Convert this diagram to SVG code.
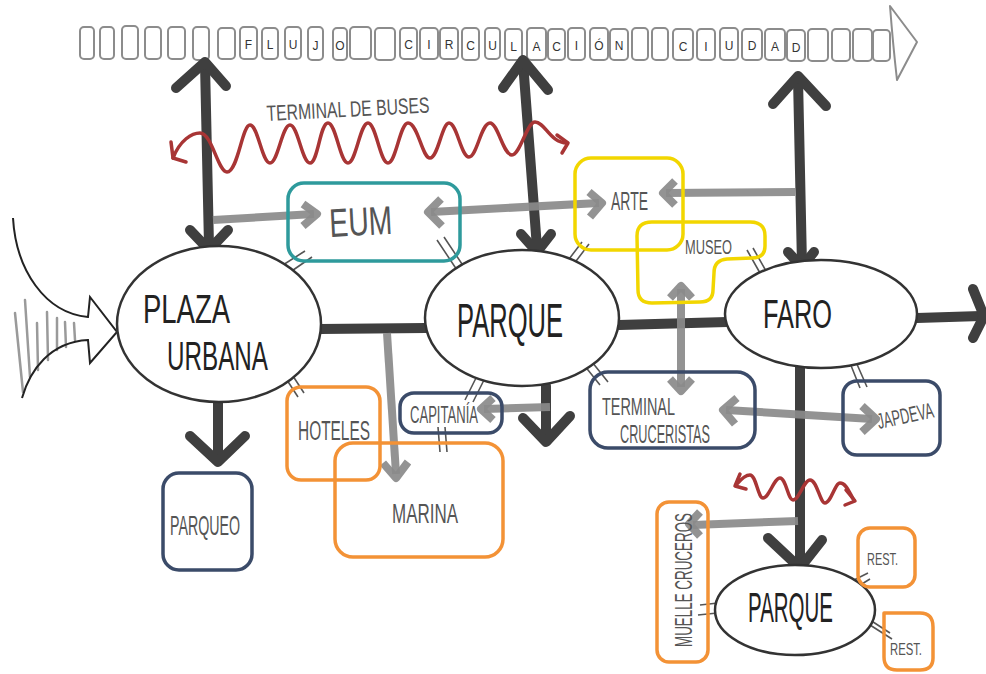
<svg xmlns="http://www.w3.org/2000/svg" width="986" height="674" viewBox="0 0 986 674">
  <style>
    .strip rect { fill: #fff; stroke: #8c8c8c; stroke-width: 2; }
    .strip text { font-family: "Liberation Sans", Arial, sans-serif; font-size: 12px; fill: #333; text-anchor: middle; }
    .main { fill: none; stroke: #3f3f3f; stroke-width: 10; stroke-linecap: round; stroke-linejoin: round; }
    .link { fill: none; stroke: #8a8a8a; stroke-width: 8; stroke-linecap: butt; stroke-linejoin: round; opacity: 0.92; }
    .wave { fill: none; stroke: #a83535; stroke-width: 3.5; stroke-linecap: round; stroke-linejoin: round; }
    .tick { fill: none; stroke: #555; stroke-width: 1.6; }
    .oval { fill: #fff; stroke: #333; stroke-width: 2.5; }
    .box { fill: none; stroke-width: 3.5; stroke-linejoin: round; }
    .teal { stroke: #2e9a9c; }
    .yellow { stroke: #f2d600; }
    .navy { stroke: #3b4b69; }
    .orange { stroke: #f39236; }
    .big { font-family: "Liberation Sans", Arial, sans-serif; fill: #222; }
    .lbl { font-family: "Liberation Sans", Arial, sans-serif; fill: #555; }
    .entry { fill: none; stroke: #222; stroke-width: 2; stroke-linejoin: miter; }
    .hatch { stroke: #9a9a9a; stroke-width: 2.5; stroke-linecap: round; }
  </style>

  <rect width="986" height="674" fill="#fff"/>

  <!-- city circulation strip -->
  <g id="flujo" class="strip">
    <rect x="80" y="27" width="14" height="32" rx="4"/>
    <rect x="100" y="27" width="14" height="32" rx="4"/>
    <rect x="122" y="26" width="16" height="33" rx="4"/>
    <rect x="145" y="27" width="16" height="32" rx="4"/>
    <rect x="168" y="27" width="17" height="32" rx="4"/>
    <rect x="193" y="27" width="16" height="33" rx="4"/>
    <rect x="218" y="28" width="17" height="31" rx="4"/>
    <rect x="240" y="27" width="17" height="32" rx="4"/><text x="248.5" y="49">F</text>
    <rect x="262" y="28" width="16" height="31" rx="4"/><text x="270" y="49">L</text>
    <rect x="285" y="27" width="16" height="32" rx="4"/><text x="293" y="49">U</text>
    <rect x="308" y="27" width="15" height="33" rx="4"/><text x="315.5" y="50">J</text>
    <rect x="333" y="28" width="14" height="32" rx="4"/><text x="340" y="50">O</text>
    <rect x="350" y="27" width="21" height="32" rx="4"/>
    <rect x="375" y="28" width="20" height="32" rx="4"/>
    <rect x="400" y="28" width="17" height="31" rx="4"/><text x="408.5" y="49">C</text>
    <rect x="420" y="28" width="18" height="31" rx="4"/><text x="429" y="49">I</text>
    <rect x="440" y="28" width="18" height="31" rx="4"/><text x="449" y="49">R</text>
    <rect x="462" y="28" width="17" height="32" rx="4"/><text x="470.5" y="50">C</text>
    <rect x="485" y="28" width="15" height="31" rx="4"/><text x="492.5" y="50">U</text>
    <rect x="505" y="29" width="17" height="31" rx="4"/><text x="513.5" y="51">L</text>
    <rect x="527" y="28" width="19" height="32" rx="4"/><text x="536.5" y="51">A</text>
    <rect x="548" y="29" width="17" height="31" rx="4"/><text x="556.5" y="51">C</text>
    <rect x="568" y="28" width="17" height="32" rx="4"/><text x="576.5" y="50">I</text>
    <rect x="590" y="28" width="18" height="32" rx="4"/><text x="599" y="50">Ó</text>
    <rect x="610" y="29" width="18" height="31" rx="4"/><text x="619" y="50">N</text>
    <rect x="632" y="28" width="16" height="32" rx="4"/>
    <rect x="652" y="28" width="16" height="32" rx="4"/>
    <rect x="673" y="29" width="20" height="31" rx="4"/><text x="683" y="51">C</text>
    <rect x="697" y="29" width="18" height="31" rx="4"/><text x="706" y="51">I</text>
    <rect x="720" y="28" width="18" height="32" rx="4"/><text x="729" y="50">U</text>
    <rect x="742" y="29" width="20" height="31" rx="4"/><text x="752" y="50">D</text>
    <rect x="765" y="29" width="20" height="31" rx="4"/><text x="775" y="51">A</text>
    <rect x="787" y="30" width="18" height="31" rx="4"/><text x="796" y="52">D</text>
    <rect x="808" y="29" width="20" height="32" rx="4"/>
    <rect x="832" y="29" width="18" height="32" rx="4"/>
    <rect x="853" y="29" width="19" height="32" rx="4"/>
    <rect x="873" y="30" width="17" height="31" rx="4"/>
    <path d="M890,6 L917,42 L897,80 Q893,45 890,6 Z" fill="#fff" stroke="#8c8c8c" stroke-width="2" stroke-linejoin="round"/>
  </g>

  <!-- incoming flow on the left -->
  <g id="entrada">
    <line class="hatch" x1="15" y1="313" x2="23" y2="392"/>
    <line class="hatch" x1="25" y1="300" x2="30" y2="377"/>
    <line class="hatch" x1="37" y1="323" x2="38" y2="370"/>
    <line class="hatch" x1="47" y1="312" x2="48" y2="360"/>
    <line class="hatch" x1="57" y1="318" x2="57" y2="350"/>
    <line class="hatch" x1="65" y1="322" x2="66" y2="347"/>
    <line class="hatch" x1="74" y1="323" x2="75" y2="340"/>
    <path class="entry" d="M13,218 C16,270 45,313 88,317 L90,297 L117,332 L90,363 L88,340 C50,342 30,370 22,398"/>
  </g>

  <!-- connectors -->
  <g id="connectors">
    <!-- main circulation axes -->
    <path class="main" d="M205,64 L209,246"/>
    <polyline class="main" points="176,88 205,62 226,86"/>
    <polyline class="main" points="190,230 209,250 228,230"/>

    <path class="main" d="M523,62 L537,248"/>
    <polyline class="main" points="521,234 537,252 551,234"/>
    <polyline class="main" points="503,88 523,60 548,90"/>

    <path class="main" d="M798,78 L802,265"/>
    <polyline class="main" points="773,104 798,76 826,106"/>
    <polyline class="main" points="788,252 802,267 814,252"/>

    <path class="main" d="M800,367 L800,566"/>
    <polyline class="main" points="768,538 800,568 822,540"/>

    <path class="main" d="M218,403 L218,460"/>
    <polyline class="main" points="190,436 218,462 245,436"/>

    <path class="main" d="M546,386 L546,441"/>
    <polyline class="main" points="523,418 546,442 570,416"/>

    <path class="main" d="M320,329 L426,328"/>
    <path class="main" d="M619,325 L727,322"/>
    <path class="main" d="M917,318 L981,316"/>
    <polyline class="main" points="973,289 984,316 973,338"/>

    <!-- secondary links -->
    <path class="link" d="M213,220 L314,214"/>
    <polyline class="link" points="303,204 317,214 303,226"/>

    <path class="link" d="M431,212 L599,203"/>
    <polyline class="link" points="441,199 428,212 442,226"/>
    <polyline class="link" points="589,192 602,203 590,217"/>

    <path class="link" d="M795,192 L666,193"/>
    <polyline class="link" points="675,181 663,193 675,205"/>

    <path class="link" d="M681,289 L681,387"/>
    <polyline class="link" points="670,298 681,286 692,298"/>
    <polyline class="link" points="670,379 681,391 692,379"/>

    <path class="link" d="M726,410 L872,419"/>
    <polyline class="link" points="737,398 723,410 735,424"/>
    <polyline class="link" points="862,406 876,419 862,432"/>

    <path class="link" d="M550,407 L484,409"/>
    <polyline class="link" points="493,398 481,409 493,420"/>

    <path class="link" d="M387,333 L396,474"/>
    <polyline class="link" points="383,463 396,478 408,462"/>

    <path class="link" d="M798,521 L693,525"/>
    <polyline class="link" points="700,512 689,524 700,536"/>

    <!-- bus terminal flow -->
    <path class="wave" d="M173,158 C180,140 192,133 200,133 C212,133 218,172 227,172 C238,172 242,125 250,125 C258,125 262,163 270,163 C278,163 282,125 290,125 C298,125 302,163 310,163 C318,163 320,123 328,123 C336,123 340,163 348,163 C356,163 360,123 368,123 C376,123 380,163 388,163 C396,163 400,123 408,123 C418,123 422,158 430,158 C438,158 442,123 449,123 C457,123 461,157 469,157 C477,157 481,123 490,123 C498,123 503,155 512,155 C520,155 527,122 535,122 C545,122 550,143 567,143"/>
    <polyline class="wave" points="171,142 173,158 186,162"/>
    <polyline class="wave" points="557,135 568,143 562,153"/>

    <path class="wave" d="M737,484 C742,478 746,475 750,475 C756,475 758,498 763,498 C769,498 774,478 780,478 C786,478 788,500 793,500 C799,500 804,480 810,480 C817,480 820,503 825,503 C831,503 835,483 840,483 C847,483 850,495 854,500"/>
    <polyline class="wave" points="740,474 735,486 746,489"/>
    <polyline class="wave" points="846,490 855,501 845,505"/>

    <!-- adjacency ticks -->
    <path class="tick" d="M275,270 L305,251 M283,277 L312,257"/>
    <path class="tick" d="M437,240 L457,270 M444,237 L464,267"/>
    <path class="tick" d="M563,267 L582,242 M570,269 L589,244"/>
    <path class="tick" d="M747,250 L760,273 M753,248 L766,271"/>
    <path class="tick" d="M285,377 L298,397 M291,373 L304,393"/>
    <path class="tick" d="M465,400 L480,370 M473,402 L488,372"/>
    <path class="tick" d="M438,427 L440,452 M445,427 L447,452"/>
    <path class="tick" d="M580,360 L600,385 M588,357 L608,382"/>
    <path class="tick" d="M850,363 L860,388 M856,362 L867,387"/>
    <path class="tick" d="M848,583 L868,573 M852,590 L870,579"/>
    <path class="tick" d="M867,618 L890,633 M870,625 L892,639"/>
    <path class="tick" d="M700,605 L727,602 M698,615 L727,612"/>
  </g>

  <text class="lbl" x="267" y="121" font-size="22" textLength="163" lengthAdjust="spacingAndGlyphs" fill="#444" transform="rotate(-3 267 121)">TERMINAL DE BUSES</text>

  <!-- main nodes -->
  <g id="plaza-urbana">
    <ellipse class="oval" cx="219" cy="324" rx="102" ry="78"/>
    <text class="big" x="143" y="323" font-size="40" textLength="87" lengthAdjust="spacingAndGlyphs">PLAZA</text>
    <text class="big" x="167" y="370" font-size="40" textLength="101" lengthAdjust="spacingAndGlyphs">URBANA</text>
  </g>

  <g id="parque">
    <ellipse class="oval" cx="522" cy="318" rx="97" ry="68"/>
    <text class="big" x="457" y="337" font-size="48" textLength="106" lengthAdjust="spacingAndGlyphs">PARQUE</text>
  </g>

  <g id="faro">
    <ellipse class="oval" cx="821" cy="314" rx="96" ry="54"/>
    <text class="big" x="763" y="328" font-size="40" textLength="69" lengthAdjust="spacingAndGlyphs">FARO</text>
  </g>

  <g id="parque-muelle">
    <ellipse class="oval" cx="795" cy="610" rx="80" ry="45"/>
    <text class="big" x="748" y="622" font-size="42" textLength="85" lengthAdjust="spacingAndGlyphs">PARQUE</text>
  </g>

  <!-- surrounding places -->
  <g id="eum">
    <rect class="box teal" x="288" y="183" width="172" height="78" rx="16"/>
    <text class="lbl" x="330" y="237" font-size="40" textLength="63" lengthAdjust="spacingAndGlyphs" fill="#666" transform="rotate(-3 330 237)">EUM</text>
  </g>

  <g id="arte">
    <rect class="box yellow" x="575" y="158" width="108" height="92" rx="16"/>
    <text class="lbl" x="611" y="210" font-size="26" textLength="37" lengthAdjust="spacingAndGlyphs">ARTE</text>
  </g>

  <g id="museo">
    <path class="box yellow" d="M652,222 L750,222 Q765,222 765,236 L765,246 Q765,258 752,258 L727,259 Q714,260 714,273 L713,290 Q713,302 700,302 L652,303 Q638,303 638,290 L637,236 Q637,222 652,222 Z"/>
    <text class="lbl" x="685" y="254" font-size="21" textLength="47" lengthAdjust="spacingAndGlyphs">MUSEO</text>
  </g>

  <g id="terminal-cruceristas">
    <rect class="box navy" x="590" y="372" width="165" height="76" rx="18"/>
    <text class="lbl" x="602" y="415" font-size="24" textLength="73" lengthAdjust="spacingAndGlyphs">TERMINAL</text>
    <text class="lbl" x="620" y="443" font-size="25" textLength="90" lengthAdjust="spacingAndGlyphs">CRUCERISTAS</text>
  </g>

  <g id="japdeva">
    <rect class="box navy" x="843" y="381" width="97" height="74" rx="14"/>
    <text class="lbl" x="879" y="429" font-size="22" textLength="57" lengthAdjust="spacingAndGlyphs" transform="rotate(-12 879 429)">JAPDEVA</text>
  </g>

  <g id="capitania">
    <rect class="box navy" x="400" y="393" width="102" height="40" rx="14"/>
    <text class="lbl" x="410" y="423" font-size="23" textLength="68" lengthAdjust="spacingAndGlyphs">CAPITANÍA</text>
  </g>

  <g id="hoteles">
    <rect class="box orange" x="287" y="387" width="93" height="93" rx="14"/>
    <text class="lbl" x="298" y="440" font-size="27" textLength="72" lengthAdjust="spacingAndGlyphs">HOTELES</text>
  </g>

  <g id="marina">
    <rect class="box orange" x="335" y="443" width="168" height="114" rx="18"/>
    <text class="lbl" x="392" y="523" font-size="28" textLength="66" lengthAdjust="spacingAndGlyphs">MARINA</text>
  </g>

  <g id="parqueo">
    <rect class="box navy" x="163" y="473" width="89" height="97" rx="16"/>
    <text class="lbl" x="170" y="535" font-size="28" textLength="70" lengthAdjust="spacingAndGlyphs">PARQUEO</text>
  </g>

  <g id="muelle-cruceros">
    <rect class="box orange" x="657" y="502" width="51" height="160" rx="12"/>
    <text class="lbl" x="0" y="0" font-size="23" textLength="134" lengthAdjust="spacingAndGlyphs" transform="translate(692 647) rotate(-90)">MUELLE CRUCEROS</text>
  </g>

  <g id="rest-1">
    <rect class="box orange" x="858" y="528" width="57" height="59" rx="12"/>
    <text class="lbl" x="867" y="565" font-size="17" textLength="31" lengthAdjust="spacingAndGlyphs">REST.</text>
  </g>

  <g id="rest-2">
    <path class="box orange" d="M884,613 L920,613 Q933,613 933,627 L933,658 Q933,670 920,670 L897,670 Q884,670 884,657 Z"/>
    <text class="lbl" x="890" y="655" font-size="16" textLength="32" lengthAdjust="spacingAndGlyphs">REST.</text>
  </g>
</svg>
